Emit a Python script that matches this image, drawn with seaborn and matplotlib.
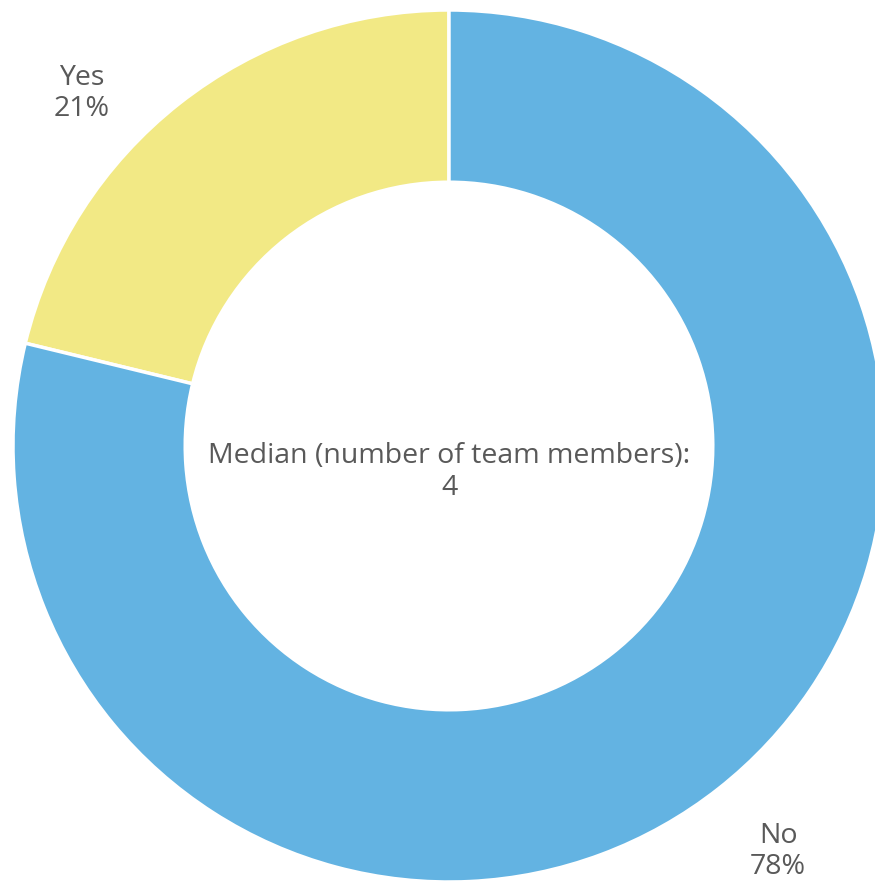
import matplotlib
matplotlib.use("Agg")
import matplotlib.pyplot as plt
import seaborn as sns

categories = ["Yes", "No"]
shares = [21, 78]
colors = ["#F2E985", "#63B3E2"]
center_title = "Median (number of team members):"
center_value = "4"

sns.set_theme(style="white")
plt.rcParams["font.family"] = ["Open Sans", "DejaVu Sans"]

fig = plt.figure(figsize=(8.75, 8.82), dpi=100)
ax = fig.add_axes([0, 0, 1, 1])

radius_px = 436.0
cx, cy = 449.0, 446.0
W, H = 875.0, 882.0

wedges, _ = ax.pie(
    shares,
    colors=colors,
    startangle=90,
    counterclock=True,
    radius=1.0,
    wedgeprops=dict(width=0.395, edgecolor="white", linewidth=2.5),
)

ax.set_xlim(-cx / radius_px, (W - cx) / radius_px)
ax.set_ylim(-(H - cy) / radius_px, cy / radius_px)
ax.set_aspect("equal")
ax.axis("off")

text_color = "#595959"
fs = 20.5
label_pos = {"Yes": (-0.842, 0.808), "No": (0.755, -0.93)}
for cat, val in zip(categories, shares):
    x, y = label_pos[cat]
    ax.text(x, y, f"{cat}\n{val}%", ha="center", va="center",
            fontsize=fs, color=text_color, linespacing=1.12)

ax.text(0, -0.06, f"{center_title}\n{center_value}", ha="center", va="center",
        fontsize=fs, color=text_color, linespacing=1.2)

fig.savefig("out.png", dpi=100)
